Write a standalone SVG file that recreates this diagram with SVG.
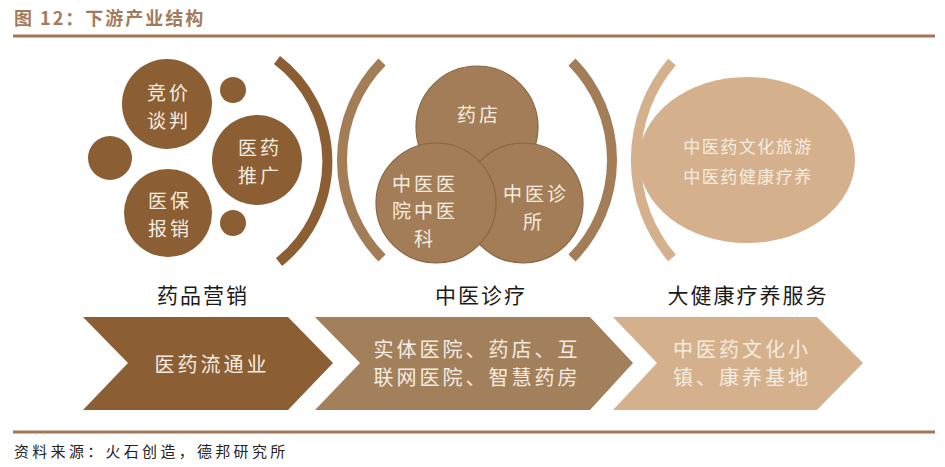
<svg xmlns="http://www.w3.org/2000/svg" width="945" height="467" viewBox="0 0 945 467">
<style>
.t{font-family:"Noto Sans CJK SC","Noto Sans",sans-serif;}
.in{fill:#F6EDE0;font-size:19px;text-anchor:middle;dominant-baseline:central;letter-spacing:3px;}
.lbl{fill:#1a1a1a;font-size:21px;text-anchor:middle;dominant-baseline:central;letter-spacing:2px;}
.ch{font-size:20px;letter-spacing:3px;}
.el{font-size:17px;letter-spacing:1.5px;}
.d{fill:#8B5E34;}
.m{fill:#A27D57;stroke:#8A6642;stroke-width:1.2;}
.l{fill:#D4B18C;}
.arc{fill:none;stroke-width:10;}
</style>
<rect width="945" height="467" fill="#ffffff"/>
<g id="title">
<text class="t" x="14" y="25" font-size="18" font-weight="bold" fill="#A27B5C" letter-spacing="2">图 12：下游产业结构</text>
<line x1="13" y1="36" x2="935" y2="36" stroke="#A07656" stroke-width="3"/>
</g>
<g id="marketing">
<circle class="d" cx="110" cy="158" r="22"/>
<circle class="d" cx="233" cy="90" r="13"/>
<circle class="d" cx="233" cy="223" r="13"/>
<circle class="d" cx="167" cy="104" r="45"/>
<circle class="d" cx="257" cy="160" r="45"/>
<circle class="d" cx="168" cy="213" r="44"/>
<text class="t in" x="169" y="91">竞价</text>
<text class="t in" x="169" y="119">谈判</text>
<text class="t in" x="260" y="146">医药</text>
<text class="t in" x="260" y="174">推广</text>
<text class="t in" x="170" y="199">医保</text>
<text class="t in" x="170" y="227">报销</text>
<path class="arc" stroke="#8B5E34" d="M277 60 A128 128 0 0 1 279 262"/>
<text class="t lbl" x="203" y="294">药品营销</text>
</g>
<g id="clinic">
<path class="arc" stroke="#A27D57" d="M382 62 A140 140 0 0 0 382 258"/>
<path class="arc" stroke="#A27D57" d="M572 62 A140 140 0 0 1 572 258"/>
<circle class="m" cx="477" cy="127" r="61"/>
<circle class="m" cx="523" cy="203" r="60"/>
<circle class="m" cx="436" cy="203" r="60"/>
<text class="t in" x="479" y="113">药店</text>
<text class="t in" x="425" y="182">中医医</text>
<text class="t in" x="425" y="209">院中医</text>
<text class="t in" x="425" y="237">科</text>
<text class="t in" x="536" y="192">中医诊</text>
<text class="t in" x="534" y="220">所</text>
<text class="t lbl" x="481" y="294">中医诊疗</text>
</g>
<g id="health">
<path class="arc" stroke="#D4B18C" d="M672 62 A151 151 0 0 0 672 258"/>
<ellipse class="l" cx="747" cy="160" rx="108" ry="83"/>
<text class="t in el" x="748" y="145">中医药文化旅游</text>
<text class="t in el" x="748" y="175">中医药健康疗养</text>
<text class="t lbl" x="748" y="294">大健康疗养服务</text>
</g>
<g id="connectors">
<polygon class="d" points="83,317 288,317 333,363 288,410 83,410 128,363"/>
<polygon fill="#A2805C" points="315,317 590,317 633,363 590,410 315,410 360,363"/>
<polygon class="l" points="613,317 817,317 863,363 817,410 613,410 657,363"/>
<text class="t in ch" x="212" y="363">医药流通业</text>
<text class="t in ch" x="477" y="348">实体医院、药店、互</text>
<text class="t in ch" x="477" y="376">联网医院、智慧药房</text>
<text class="t in ch" x="742" y="348">中医药文化小</text>
<text class="t in ch" x="742" y="376">镇、康养基地</text>
</g>
<g id="source">
<line x1="13" y1="432" x2="935" y2="432" stroke="#A07656" stroke-width="3"/>
<text class="t" x="14" y="457" font-size="15" fill="#222" letter-spacing="3.3">资料来源：火石创造，德邦研究所</text>
</g>
</svg>
